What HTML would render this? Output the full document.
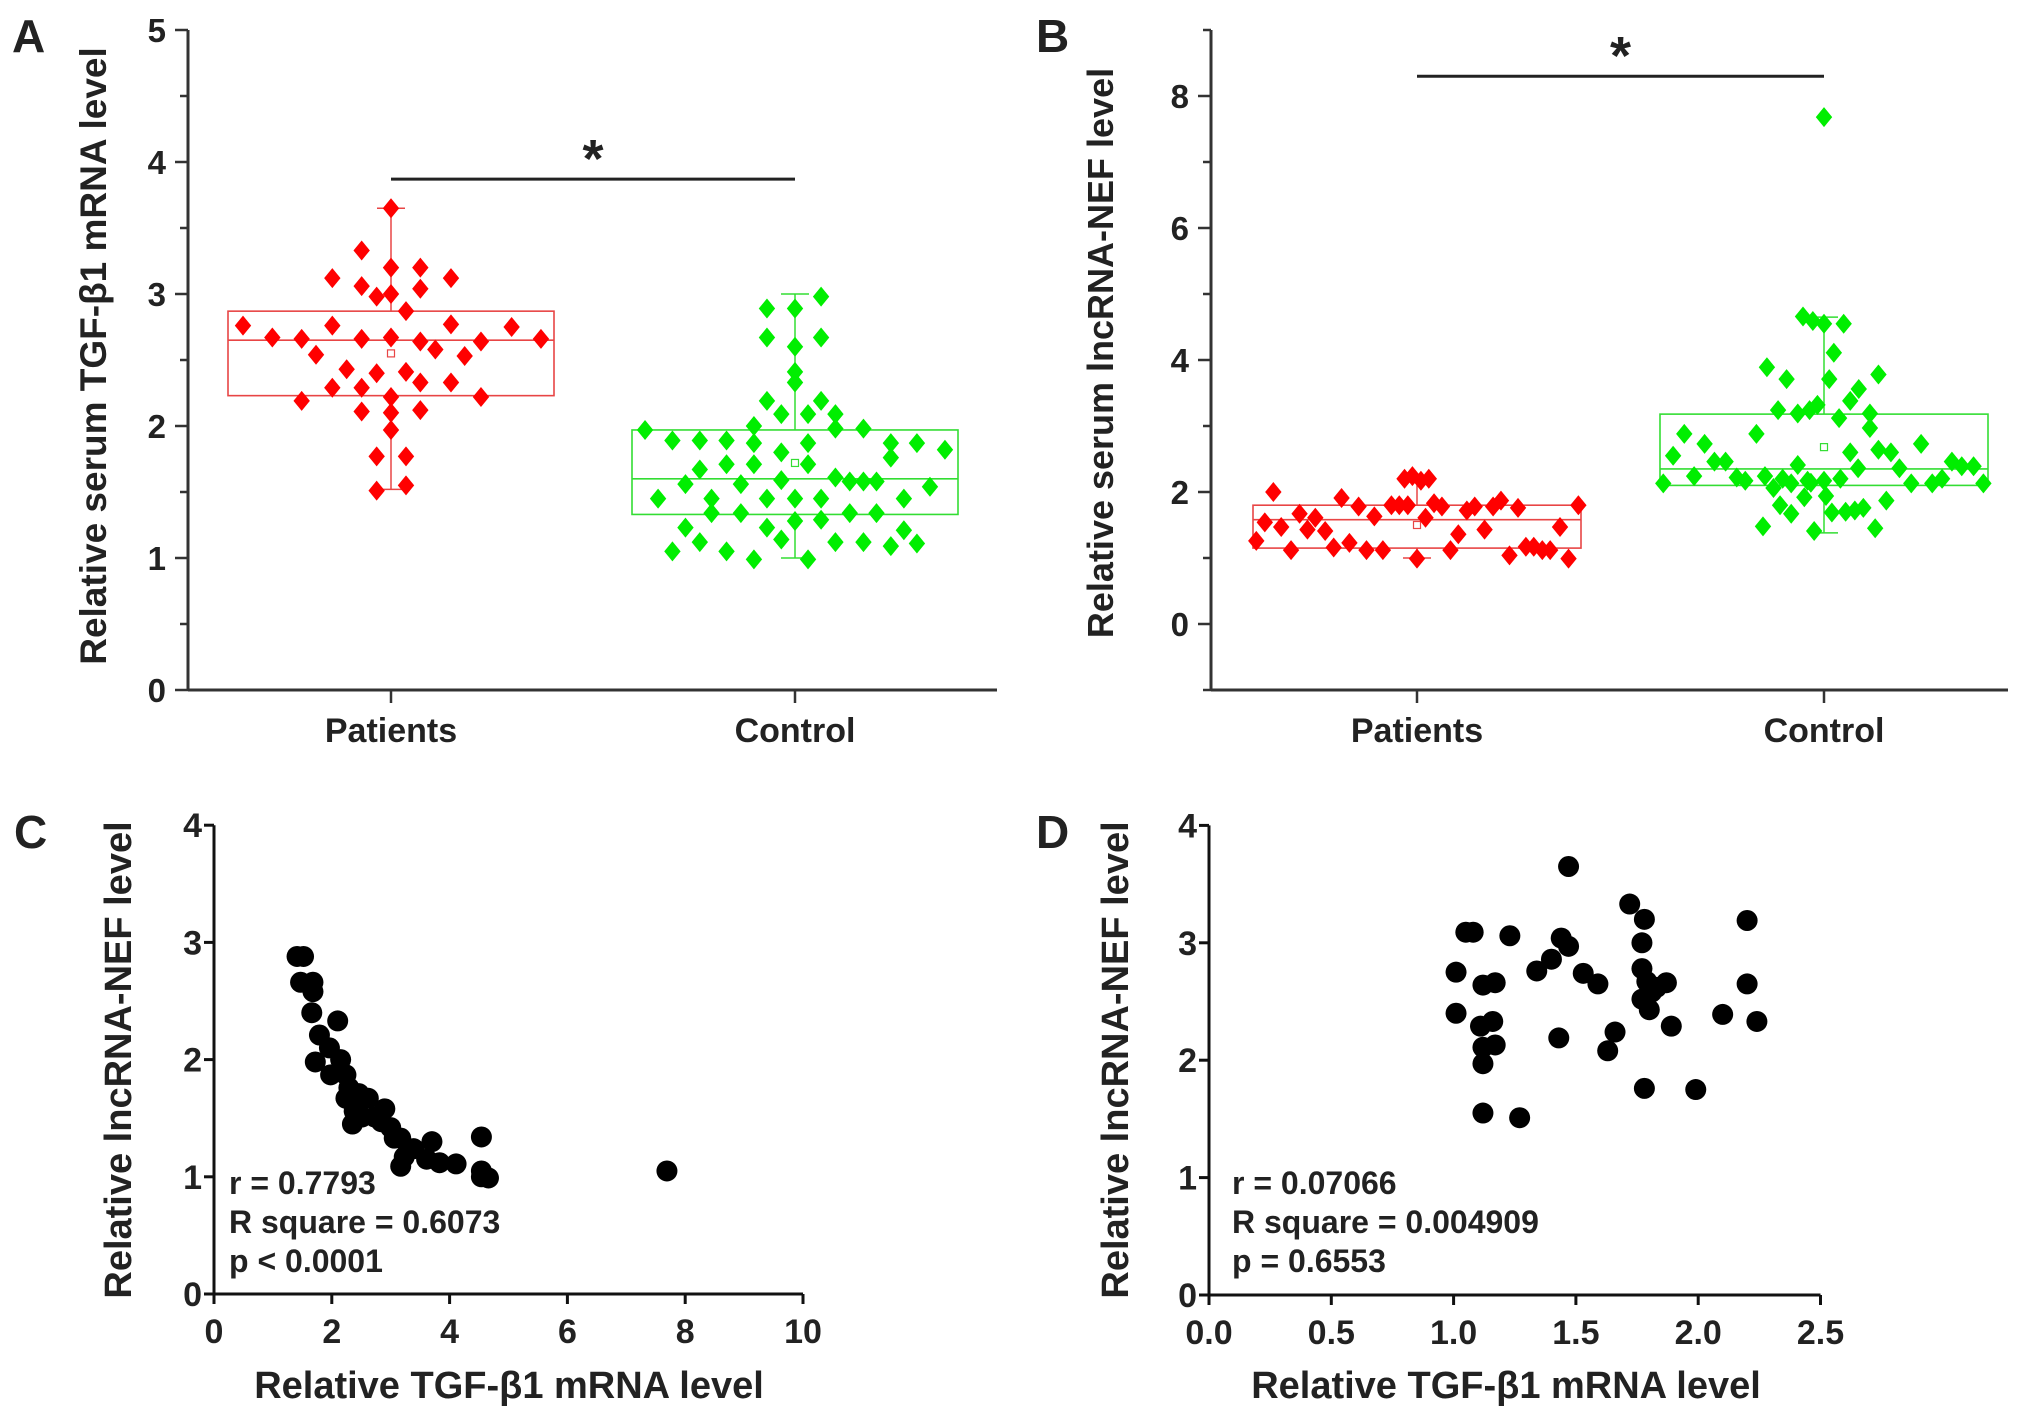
<!DOCTYPE html>
<html><head><meta charset="utf-8"><style>
html,body{margin:0;padding:0;background:#fff}
svg{display:block}
text{font-family:"Liberation Sans",Arial,sans-serif;font-weight:bold;fill:#222}
.n{font-family:"Liberation Sans Narrow","Liberation Sans",sans-serif}
</style></head><body>
<svg id="fig" width="2031" height="1422" viewBox="0 0 2031 1422" xmlns="http://www.w3.org/2000/svg"></svg>
<script>
// ---------- Panel A data ----------
const aCategories = ["Patients", "Control"];
const aPatVals = [3.65,3.33,3.20,3.20,3.12,3.12,3.06,3.04,3.0,2.98,2.87,2.76,2.76,2.77,2.75,2.67,2.66,2.66,2.67,2.64,2.64,2.66,2.54,2.58,2.53,2.43,2.40,2.41,2.33,2.33,2.29,2.29,2.19,2.22,2.22,2.11,2.10,2.12,1.97,1.77,1.77,1.51,1.55];
const aPatJit = [0,-45,0,45,-90,92,-45,45,0,-22,23,-227,-90,92,185,-182,-137,-45,0,45,138,230,-115,68,113,-68,-22,23,45,92,-90,-45,-137,0,138,-45,0,45,0,-22,23,-22,23];
const aCtlVals = [2.98,2.89,2.89,2.67,2.67,2.60,2.41,2.33,2.19,2.19,2.09,2.09,2.09,2.0,1.98,1.98,1.97,1.89,1.89,1.89,1.87,1.87,1.87,1.87,1.82,1.80,1.76,1.71,1.71,1.71,1.67,1.61,1.59,1.58,1.58,1.58,1.56,1.56,1.54,1.45,1.45,1.45,1.45,1.45,1.45,1.34,1.34,1.34,1.34,1.28,1.29,1.23,1.23,1.21,1.12,1.14,1.12,1.12,1.11,1.09,1.05,1.05,0.99,0.99];
const aCtlJit = [40,-43,0,-43,40,0,0,0,-43,40,-21,20,62,-63,62,105,-230,-188,-146,-105,-63,20,147,187,230,-21,147,-105,-63,20,-146,62,-21,84,105,125,-168,-83,207,-210,-128,-43,0,40,167,-128,-83,84,125,0,40,-168,-43,167,-146,-21,62,105,187,147,-188,-105,-63,20];
const aPatStats = {q1:2.23,q3:2.87,med:2.65,mean:2.55,lo:1.52,hi:3.65};
const aCtlStats = {q1:1.33,q3:1.97,med:1.60,mean:1.72,lo:1.00,hi:3.00};
const aTicks = [0,1,2,3,4,5];
// ---------- Panel B data ----------
const bPatVals = [1.26,1.54,2.0,1.47,1.12,1.67,1.43,1.61,1.41,1.16,1.91,1.23,1.78,1.12,1.63,1.12,1.80,1.80,1.80,2.2,2.24,2.17,2.2,1.61,0.99,1.83,1.78,1.12,1.36,1.72,1.78,1.43,1.78,1.87,1.04,1.76,1.17,1.17,1.12,1.12,1.47,0.99,1.80];
const bPatJit = [-245,-232,-219,-207,-192,-179,-167,-155,-140,-127,-115,-103,-89,-77,-65,-52,-39,-27,-14,-19,-7,6,18,13,0,26,38,51,63,76,88,103,116,128,141,154,166,178,191,203,218,231,246];
const bCtlVals = [7.68,4.66,4.59,4.55,4.55,4.11,3.89,3.71,3.71,3.78,3.56,3.38,3.32,3.24,3.19,3.24,3.19,3.12,2.97,2.88,2.88,2.73,2.73,2.60,2.64,2.60,2.55,2.46,2.46,2.41,2.36,2.36,2.46,2.39,2.39,2.24,2.22,2.17,2.24,2.20,2.13,2.17,2.17,2.20,2.14,2.13,2.13,2.13,2.20,2.13,2.06,1.92,1.94,1.87,1.80,1.67,1.69,1.70,1.72,1.76,1.48,1.41,1.45];
const bCtlJit = [0,-32,-17,0,30,15,-87,-57,8,83,53,40,-10,-70,-40,-22,70,23,70,-103,-213,-182,148,40,83,102,-230,-167,-150,-40,52,115,195,210,228,-198,-133,-120,-90,-63,-50,-25,0,25,-20,-245,133,165,180,243,-77,-30,3,95,-67,-50,12,33,47,60,-93,-15,78];
const bPatStats = {q1:1.15,q3:1.80,med:1.58,mean:1.50,lo:1.00,hi:2.20};
const bCtlStats = {q1:2.10,q3:3.18,med:2.35,mean:2.68,lo:1.38,hi:4.65};
const bTicks = [0,2,4,6,8];
// ---------- Panel C data ----------
const cX = [1.41,1.52,1.47,1.68,1.68,1.66,2.10,1.79,1.96,1.72,2.15,1.98,2.24,2.29,2.46,2.24,2.62,2.90,2.38,2.51,2.73,2.35,2.84,3.0,3.06,3.17,3.39,3.70,3.23,3.17,3.61,3.83,4.11,4.54,4.54,4.66,4.54,7.69];
const cY = [2.88,2.88,2.66,2.66,2.58,2.40,2.33,2.21,2.10,1.98,2.0,1.87,1.87,1.76,1.71,1.67,1.67,1.58,1.56,1.51,1.51,1.45,1.47,1.42,1.33,1.33,1.24,1.30,1.17,1.09,1.15,1.12,1.11,1.34,1.05,0.99,1.0,1.05];
const cXTicks = [0,2,4,6,8,10];
const cYTicks = [0,1,2,3,4];
const cStats = ["r = 0.7793","R square = 0.6073","p < 0.0001"];
// ---------- Panel D data ----------
const dX = [1.01,1.01,1.05,1.08,1.23,1.12,1.17,1.11,1.16,1.12,1.17,1.12,1.12,1.27,1.47,1.34,1.40,1.44,1.47,1.53,1.59,1.43,1.63,1.66,1.72,1.78,1.77,1.77,1.79,1.81,1.80,1.83,1.87,1.77,1.89,1.78,1.99,2.10,2.20,2.20,2.24];
const dY = [2.75,2.40,3.09,3.09,3.06,2.64,2.66,2.29,2.33,2.11,2.13,1.97,1.55,1.51,3.65,2.76,2.86,3.04,2.97,2.74,2.65,2.19,2.08,2.24,3.33,3.20,3.0,2.78,2.67,2.58,2.43,2.62,2.66,2.52,2.29,1.76,1.75,2.39,3.19,2.65,2.33];
const dXTicks = ["0.0","0.5","1.0","1.5","2.0","2.5"];
const dYTicks = [0,1,2,3,4];
const dStats = ["r = 0.07066","R square = 0.004909","p = 0.6553"];

const NS="http://www.w3.org/2000/svg";
const svg=document.getElementById('fig');
function mk(tag,attrs,parent){const e=document.createElementNS(NS,tag);for(const k in attrs)e.setAttribute(k,attrs[k]);(parent||svg).appendChild(e);return e;}
function txt(s,attrs,parent){const e=mk('text',attrs,parent);e.textContent=s;return e;}
function line(x1,y1,x2,y2,c,w,p){return mk('line',{x1,y1,x2,y2,stroke:c,'stroke-width':w},p);}

function boxPanel(o){
  const g=mk('g',{});
  
  
  const y=v=>o.y0-(v-o.vmin)*o.unit;
  const ax=mk('g',{},g);
  
  
  line(o.ax,y(o.vmax),o.ax,y(o.vmin)+1,'#333',3,ax);
  line(o.ax,y(o.vmin),o.xEnd,y(o.vmin),'#333',3,g);
  for(let v=o.vmin;v<=o.vmax+1e-9;v+=o.minor){
    const major=o.ticks.some(t=>Math.abs(t-v)<1e-9);
    line(o.ax-(major?13:8),y(v),o.ax,y(v),'#333',2.5,ax);
  }
  o.ticks.forEach(t=>{const e=txt(String(t),{x:o.ax-22,y:y(t)+12,'text-anchor':'end','font-size':33},ax);
    });
  const yt=txt(o.ytitle,{x:0,y:0,'text-anchor':'middle','font-size':o.tfs,transform:`translate(${o.tx},${o.ty}) rotate(-90)`},g);
  
  o.groups.forEach((gr,i)=>{
    const cx=o.cx[i];
    line(cx,y(o.vmin),cx,y(o.vmin)+13,'#333',2.5,g);
    const cl=txt(gr.label,{x:cx,y:y(o.vmin)+52,'text-anchor':'middle','font-size':34},g);
    
    const bg=mk('g',{},g);
    
    
    const s=gr.stats, hw=o.hw;
    line(cx,y(s.hi),cx,y(s.q3),gr.box,1.5,bg);
    line(cx,y(s.q1),cx,y(s.lo),gr.box,1.5,bg);
    line(cx-14,y(s.hi),cx+14,y(s.hi),gr.box,1.5,bg);
    line(cx-14,y(s.lo),cx+14,y(s.lo),gr.box,1.5,bg);
    mk('rect',{x:cx-hw,y:y(s.q3),width:2*hw,height:y(s.q1)-y(s.q3),fill:'none',stroke:gr.box,'stroke-width':1.6},bg);
    line(cx-hw,y(s.med),cx+hw,y(s.med),gr.box,1.6,bg);
    mk('rect',{x:cx-3.5,y:y(s.mean)-3.5,width:7,height:7,fill:'none',stroke:gr.box,'stroke-width':1.2},bg);
    gr.vals.forEach((v,j)=>{
      const px=cx+gr.jit[j]/250*hw, py=y(v), r=10;
      const d=mk('polygon',{points:`${px},${py-r} ${px+r*0.82},${py} ${px},${py+r} ${px-r*0.82},${py}`,fill:gr.col},bg);
      
      
    });
  });
  const sb=mk('g',{},g);
  
  
  line(o.cx[0],y(o.sigV),o.cx[1],y(o.sigV),'#222',3,sb);
  txt('*',{x:(o.cx[0]+o.cx[1])/2,y:y(o.sigV)-2,'text-anchor':'middle','font-size':54},sb);
  const L=txt(o.letter,{x:o.lx,y:52,'font-size':46},g);
  
}

boxPanel({name:'panel-a',letter:'A',lx:12,ax:188,y0:690,vmin:0,vmax:5,unit:132,minor:0.5,ticks:aTicks,xEnd:997,
  cx:[391,795],hw:163,ytitle:'Relative serum TGF-β1 mRNA level',tx:106,ty:356,tfs:37,sigV:3.87,
  groups:[{label:aCategories[0],vals:aPatVals,jit:aPatJit,stats:aPatStats,col:'#ff0000',box:'#e84545'},
          {label:aCategories[1],vals:aCtlVals,jit:aCtlJit,stats:aCtlStats,col:'#00ee00',box:'#33dd33'}]});
boxPanel({name:'panel-b',letter:'B',lx:1036,ax:1211,y0:690,vmin:-1,vmax:9,unit:66,minor:1,ticks:bTicks,xEnd:2008,
  cx:[1417,1824],hw:164,ytitle:'Relative serum lncRNA-NEF level',tx:1113,ty:353,tfs:36,sigV:8.3,
  groups:[{label:aCategories[0],vals:bPatVals,jit:bPatJit,stats:bPatStats,col:'#ff0000',box:'#e84545'},
          {label:aCategories[1],vals:bCtlVals,jit:bCtlJit,stats:bCtlStats,col:'#00ee00',box:'#33dd33'}]});

function scatterPanel(o){
  const g=mk('g',{});
  
  
  const X=v=>o.ax+v*o.xu, Y=v=>o.y0-v*o.yu;
  line(o.ax,Y(4),o.ax,o.y0+1.5,'#111',3,g);
  line(o.ax-1.5,o.y0,X(o.xmax),o.y0,'#111',3,g);
  o.yt.forEach(t=>{line(o.ax-10,Y(t),o.ax,Y(t),'#111',3,g);
    const e=txt(String(t),{x:o.ax-12,y:Y(t)+12,'text-anchor':'end','font-size':34,class:'n'},g);
    });
  o.xt.forEach(t=>{const v=parseFloat(t);line(X(v),o.y0,X(v),o.y0+10,'#111',3,g);
    const e=txt(String(t),{x:X(v),y:o.y0+49,'text-anchor':'middle','font-size':34,class:'n'},g);
    });
  const xt=txt('Relative TGF-β1 mRNA level',{x:o.xtx,y:1398,'text-anchor':'middle','font-size':38,class:'n'},g);
  
  const yt=txt('Relative lncRNA-NEF level',{x:0,y:0,'text-anchor':'middle','font-size':38,class:'n',transform:`translate(${o.ytx},1060) rotate(-90)`},g);
  
  o.xs.forEach((v,i)=>{const c=mk('circle',{cx:X(v),cy:Y(o.ys[i]),r:10.5,fill:'#000'},g);
    });
  const st=mk('g',{},g);
  
  
  o.stats.forEach((s,i)=>txt(s,{x:o.sx,y:1194+i*39,'font-size':32,class:'n'},st));
  const L=txt(o.letter,{x:o.lx,y:848,'font-size':46,class:'n'},g);
  
}
scatterPanel({name:'panel-c',letter:'C',lx:14,ax:214,y0:1294,xu:58.9,yu:117.2,xmax:10,xs:cX,ys:cY,xt:cXTicks,yt:cYTicks,stats:cStats,sx:229,xtx:509,ytx:131});
scatterPanel({name:'panel-d',letter:'D',lx:1036,ax:1209,y0:1295,xu:244.6,yu:117.4,xmax:2.5,xs:dX,ys:dY,xt:dXTicks,yt:dYTicks,stats:dStats,sx:1232,xtx:1506,ytx:1128});
</script>
</body></html>
